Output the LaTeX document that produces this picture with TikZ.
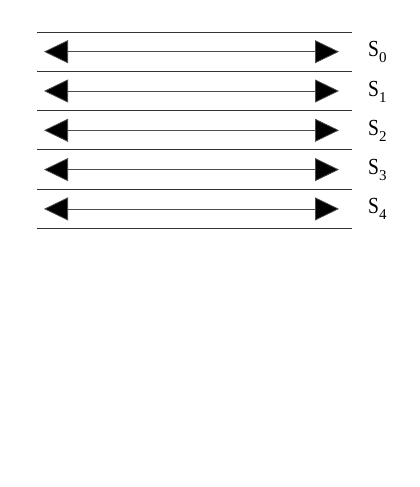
\documentclass[tikz,border=0pt]{standalone}
\usepackage{fontspec}
\setmainfont{Liberation Serif}
\usetikzlibrary{arrows.meta}
\begin{document}
\begin{tikzpicture}[x=1pt,y=-1pt,
  sep/.style={draw=black!80,line width=0.9pt},
  dbl/.style={draw=black!70,line width=0.8pt,{Triangle[length=24pt,width=23pt,fill=black]}-{Triangle[length=24pt,width=23pt,fill=black]}},
  lbl/.style={anchor=base west,inner sep=0pt,font=\fontsize{23}{25}\selectfont}]
\useasboundingbox (0,0) rectangle (420,487);
\foreach \i/\y in {0/32,1/71.3,2/110.6,3/149.9,4/189.2,5/228.5}{
  \coordinate (la\i) at (37,\y);
  \coordinate (lb\i) at (352,\y);
  \draw[sep] (la\i) -- (lb\i);
}
\foreach \i/\y in {0/51.7,1/91,2/130.3,3/169.6,4/208.9}{
  \coordinate (al\i) at (44,\y);
  \coordinate (ar\i) at (339,\y);
  \draw[dbl] (al\i) -- (ar\i);
  \node[lbl] (s\i) at (368,\y+5) {\scalebox{0.85}[1]{S}\raisebox{-6pt}{\fontsize{15}{15}\selectfont\i}};
}
\end{tikzpicture}
\end{document}
